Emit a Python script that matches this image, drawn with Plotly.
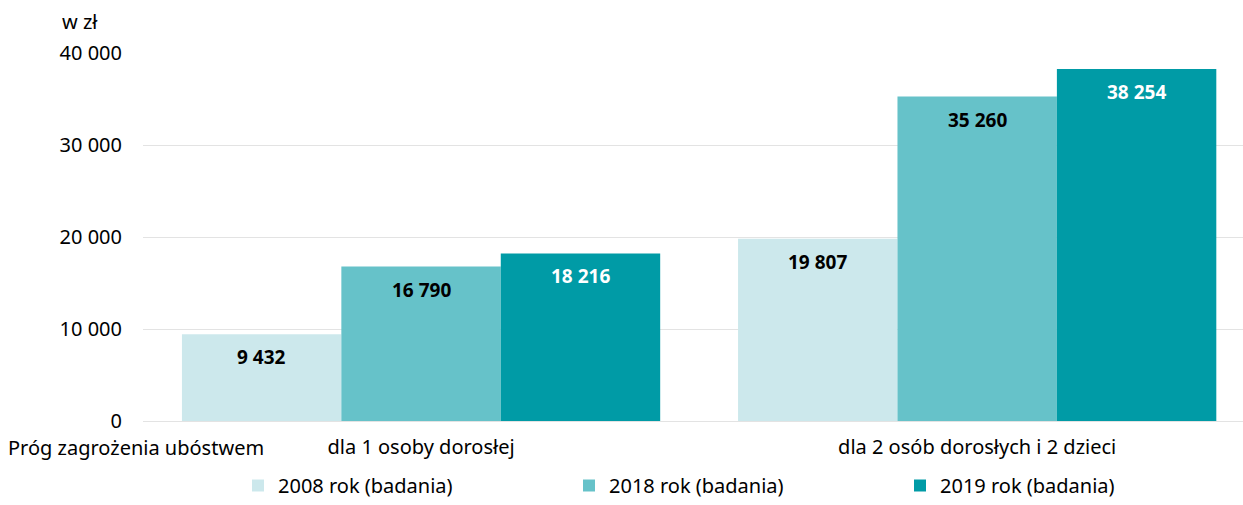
import plotly.graph_objects as go

categories = ["dla 1 osoby dorosłej", "dla 2 osób dorosłych i 2 dzieci"]
series_names = ["2008 rok (badania)", "2018 rok (badania)", "2019 rok (badania)"]
values_2008 = [9432, 19807]
values_2018 = [16790, 35260]
values_2019 = [18216, 38254]
y_ticks = [0, 10000, 20000, 30000, 40000]
y_tick_labels = ["0", "10 000", "20 000", "30 000", "40 000"]

colors = ["#cce8ec", "#66c2c9", "#009ba6"]
label_colors = ["#000000", "#000000", "#ffffff"]
FONT = "Noto Sans"
FS = 20
FS_BOLD = 19

W, H = 1243, 505
ML, MR, MT, MB = 143, 0, 53, 84
x_range = [-0.5, 1.478]
bargap = 0.14

def fmt(v):
    return f"{v:,}".replace(",", " ")

fig = go.Figure()
all_series = [values_2008, values_2018, values_2019]
for name, vals, col in zip(series_names, all_series, colors):
    fig.add_trace(go.Bar(
        x=categories, y=vals, name=name, marker=dict(color=col, line=dict(width=0)),
    ))

plot_w = W - ML - MR
plot_h = H - MT - MB
cat_px = plot_w / (x_range[1] - x_range[0])
bar_px = cat_px * (1 - bargap) / 3

annotations = []
for i, (vals, lc) in enumerate(zip(all_series, label_colors)):
    for c, v in zip(categories, vals):
        annotations.append(dict(
            x=c, y=v, xref="x", yref="y", text=f"<b>{fmt(v)}</b>",
            showarrow=False, xshift=(i - 1) * bar_px, yshift=-23,
            font=dict(family=FONT, size=FS_BOLD, color=lc), yanchor="middle",
        ))

def px_to_paper(px_x, px_y):
    return (px_x - ML) / plot_w, (H - MB - px_y) / plot_h

wx, wy = px_to_paper(60, 22)
annotations.append(dict(
    x=wx, y=wy, xref="paper", yref="paper", text="w zł", showarrow=False,
    font=dict(family=FONT, size=FS, color="#000"), xanchor="left", yanchor="middle",
))
px_, py_ = px_to_paper(6, 447)
annotations.append(dict(
    x=px_, y=py_, xref="paper", yref="paper",
    text="Próg zagrożenia ubóstwem", showarrow=False,
    font=dict(family=FONT, size=FS, color="#000"), xanchor="left", yanchor="middle",
))

fig.update_layout(
    width=W, height=H,
    margin=dict(l=ML, r=MR, t=MT, b=MB),
    barmode="group", bargap=bargap, bargroupgap=0,
    plot_bgcolor="white", paper_bgcolor="white",
    font=dict(family=FONT, size=FS, color="#000"),
    xaxis=dict(range=x_range, showgrid=False, showline=False, ticks="",
               ticklabelstandoff=12,
               tickfont=dict(family=FONT, size=FS, color="#000")),
    yaxis=dict(range=[0, 40000], tickvals=y_ticks, ticktext=y_tick_labels,
               showgrid=True, gridcolor="#e3e3e3", gridwidth=1,
               zeroline=True, zerolinecolor="#e3e3e3", zerolinewidth=1,
               showline=False, ticks="", ticklabelstandoff=20,
               tickfont=dict(family=FONT, size=FS, color="#000")),
    legend=dict(orientation="h", xref="container", yref="container",
                x=238 / W, y=-4 / H, xanchor="left", yanchor="bottom",
                entrywidth=286, entrywidthmode="pixels",
                font=dict(family=FONT, size=FS, color="#000"),
                itemclick=False, itemdoubleclick=False),
    annotations=annotations,
    showlegend=True,
)

fig.write_html("out.html", config={"displayModeBar": False},
               post_script="document.body.style.margin='0';")
